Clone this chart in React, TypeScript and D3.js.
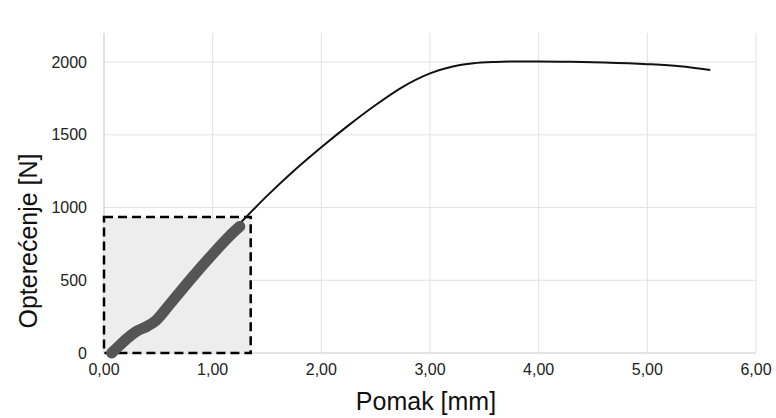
import { scaleLinear, line, curveCatmullRom } from "d3";

// tick values
const X_TICKS = [0, 1, 2, 3, 4, 5, 6];
const Y_TICKS = [0, 500, 1000, 1500, 2000];

// initial (thick) part of the curve
const initX = [0.07, 0.14, 0.22, 0.3, 0.4, 0.48, 0.6, 0.8, 1.0, 1.15, 1.25];
const initY = [0, 50, 105, 150, 185, 225, 330, 510, 680, 800, 870];

// main load curve
const curveX = [1.25, 1.5, 1.75, 2.0, 2.25, 2.5, 2.75, 3.0, 3.2, 3.4, 3.6, 3.8, 4.0, 4.3, 4.6, 5.0, 5.3, 5.58];
const curveY = [890, 1080, 1255, 1415, 1565, 1705, 1830, 1922, 1968, 1992, 2001, 2004, 2004, 2002, 1997, 1986, 1972, 1945];

// highlighted zone (dashed box)
const ZONE_X = [0, 1.35];
const ZONE_Y = [0, 935];

const fmt = (v: number) => v.toFixed(2).replace(".", ",");

export default function App() {
  const x = scaleLinear().domain([0, 6]).range([104, 756]);
  const y = scaleLinear().domain([0, 2200]).range([353, 33]);

  const path = line<[number, number]>()
    .x((d) => x(d[0]))
    .y((d) => y(d[1]))
    .curve(curveCatmullRom.alpha(0.5));

  const initPts = initX.map((v, i) => [v, initY[i]] as [number, number]);
  const curvePts = curveX.map((v, i) => [v, curveY[i]] as [number, number]);

  const font = "'Liberation Sans', Arial, sans-serif";

  return (
    <div style={{ position: "absolute", left: 0, top: 0 }}>
      <svg width={776} height={418} style={{ display: "block", background: "#fff" }} fontFamily={font}>
        {/* grid */}
        {Y_TICKS.map((t) => (
          <line key={"gy" + t} x1={x(0)} x2={x(6)} y1={y(t)} y2={y(t)} stroke="#e2e2e2" />
        ))}
        {X_TICKS.map((t) => (
          <line key={"gx" + t} x1={x(t)} x2={x(t)} y1={y(2200)} y2={y(0)} stroke="#e2e2e2" />
        ))}
        <line x1={x(0)} x2={x(0)} y1={y(2200)} y2={y(0)} stroke="#cfcfcf" />
        <line x1={x(0)} x2={x(6)} y1={y(0)} y2={y(0)} stroke="#d6d6d6" />

        {/* zone */}
        <rect
          x={x(ZONE_X[0])}
          y={y(ZONE_Y[1])}
          width={x(ZONE_X[1]) - x(ZONE_X[0])}
          height={y(ZONE_Y[0]) - y(ZONE_Y[1])}
          fill="#ededed"
          stroke="#000"
          strokeWidth={2.5}
          strokeDasharray="9 5"
        />

        <path d={path(curvePts) || ""} fill="none" stroke="#111" strokeWidth={2} />
        <path
          d={path(initPts) || ""}
          fill="none"
          stroke="#555"
          strokeWidth={11}
          strokeLinecap="round"
          strokeLinejoin="round"
        />

        {/* y ticks */}
        {Y_TICKS.map((t) => (
          <text key={"ty" + t} x={87} y={y(t)} dy="0.35em" textAnchor="end" fontSize={16} fill="#222">
            {t}
          </text>
        ))}
        {/* x ticks */}
        {X_TICKS.map((t) => (
          <text key={"tx" + t} x={x(t)} y={369} dy="0.35em" textAnchor="middle" fontSize={16} fill="#222">
            {fmt(t)}
          </text>
        ))}

        <text x={x(3) - 4} y={401} dy="0.35em" textAnchor="middle" fontSize={25} fill="#111">
          Pomak [mm]
        </text>
        <text
          transform={`translate(28,241) rotate(-90)`}
          dy="0.35em"
          textAnchor="middle"
          fontSize={25}
          fill="#111"
        >
          Opterećenje [N]
        </text>
      </svg>
    </div>
  );
}
